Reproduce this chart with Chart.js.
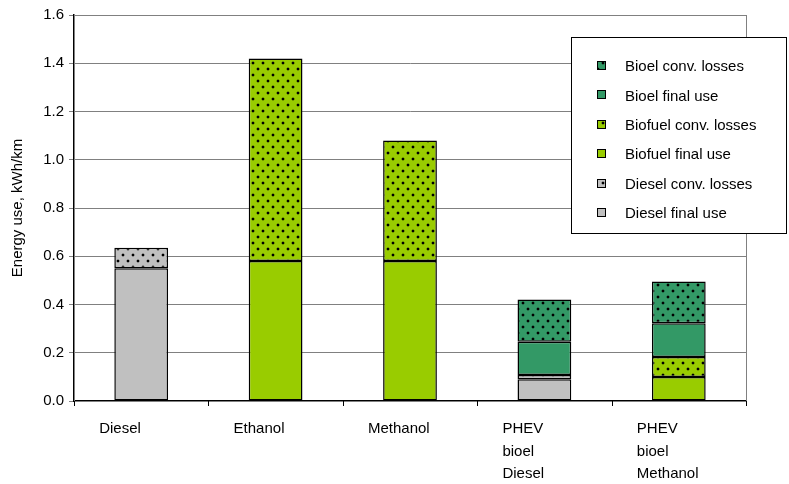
<!DOCTYPE html>
<html lang="en">
<head>
  <meta charset="UTF-8" />
  <title>Energy use per km</title>
  <script src="https://cdn.jsdelivr.net/npm/chart.js"></script>
  <style>
    html, body { margin: 0; padding: 0; background: #fff; }
    #wrap { width: 789px; height: 484px; position: relative; }
  </style>
</head>
<body>
  <div id="wrap"><canvas id="energyChart" width="789" height="484"></canvas></div>

  <script>
    // categories and stacked values (kWh/km), bottom to top
    const categories = ['Diesel', 'Ethanol', 'Methanol', ['PHEV', 'bioel', 'Diesel'], ['PHEV', 'bioel', 'Methanol']];
    const dieselFinal   = [0.55, null, null, 0.09, null];
    const dieselLosses  = [0.085, null, null, 0.018, null];
    const biofuelFinal  = [null, 0.58, 0.58, null, 0.10];
    const biofuelLosses = [null, 0.84, 0.50, null, 0.082];
    const bioelFinal    = [null, null, null, 0.138, 0.14];
    const bioelLosses   = [null, null, null, 0.175, 0.173];
    const yTicks = [0, 0.2, 0.4, 0.6, 0.8, 1.0, 1.2, 1.4, 1.6];

    const GREY = '#c0c0c0';
    const LIME = '#99cc00';
    const SEA = '#339966';

    // dotted fill used for the conversion-loss segments
    function dotted(color) {
      const c = document.createElement('canvas');
      c.width = 10; c.height = 12;
      const g = c.getContext('2d');
      g.fillStyle = color;
      g.fillRect(0, 0, 10, 12);
      g.fillStyle = 'rgba(0,0,0,0.25)';
      g.fillRect(1, 2, 4, 2); g.fillRect(2, 1, 2, 4);
      g.fillRect(6, 8, 4, 2); g.fillRect(7, 7, 2, 4);
      g.fillStyle = '#000';
      g.fillRect(2, 2, 2, 2);
      g.fillRect(7, 8, 2, 2);
      return g.createPattern(c, 'repeat');
    }

    const series = [
      { label: 'Diesel final use', data: dieselFinal, bg: GREY },
      { label: 'Diesel conv. losses', data: dieselLosses, bg: dotted(GREY) },
      { label: 'Biofuel final use', data: biofuelFinal, bg: LIME },
      { label: 'Biofuel conv. losses', data: biofuelLosses, bg: dotted(LIME) },
      { label: 'Bioel final use', data: bioelFinal, bg: SEA },
      { label: 'Bioel conv. losses', data: bioelLosses, bg: dotted(SEA) }
    ];

    // grey frame round the plot area, plus the category tick marks under the x axis
    const plotFrame = {
      id: 'plotFrame',
      beforeDatasetsDraw(chart) {
        const { ctx, chartArea: a } = chart;
        ctx.save();
        ctx.strokeStyle = '#808080';
        ctx.lineWidth = 1;
        ctx.strokeRect(Math.round(a.left) + 0.5, Math.round(a.top) + 0.5, Math.round(a.right - a.left), Math.round(a.bottom - a.top));
        const xs = chart.scales.x;
        const half = (xs.getPixelForValue(1) - xs.getPixelForValue(0)) / 2;
        ctx.strokeStyle = '#000';
        ctx.beginPath();
        for (let i = 0; i <= categories.length; i++) {
          const px = Math.round(xs.getPixelForValue(0) - half + i * half * 2) + 0.5;
          ctx.moveTo(px, a.bottom);
          ctx.lineTo(px, a.bottom + 5);
        }
        ctx.stroke();
        ctx.restore();
      }
    };

    // legend box overlapping the top right corner
    const boxLegend = {
      id: 'boxLegend',
      afterDraw(chart) {
        const ctx = chart.ctx;
        const x = 571, y = 37, w = 215, h = 196;
        ctx.save();
        ctx.fillStyle = '#fff';
        ctx.fillRect(x, y, w, h);
        ctx.strokeStyle = '#000';
        ctx.lineWidth = 1;
        ctx.strokeRect(x + 0.5, y + 0.5, w, h);
        ctx.font = '15px "Liberation Sans", Arial, sans-serif';
        ctx.textBaseline = 'middle';
        const ds = chart.data.datasets;
        for (let i = 0; i < ds.length; i++) {
          const d = ds[ds.length - 1 - i];
          const cy = 66 + i * 29.4;
          ctx.fillStyle = d.backgroundColor;
          ctx.fillRect(597, Math.round(cy) - 5, 9, 9);
          ctx.strokeStyle = '#000';
          ctx.strokeRect(597.5, Math.round(cy) - 4.5, 8, 8);
          ctx.fillStyle = '#000';
          ctx.fillText(d.label, 625, cy + 1);
        }
        ctx.restore();
      }
    };

    Chart.defaults.font.family = '"Liberation Sans", Arial, sans-serif';
    Chart.defaults.font.size = 15;
    Chart.defaults.color = '#000';

    new Chart(document.getElementById('energyChart'), {
      type: 'bar',
      data: {
        labels: categories,
        datasets: series.map(s => ({
          label: s.label,
          data: s.data,
          backgroundColor: s.bg,
          borderColor: '#000',
          borderWidth: 1.5,
          borderSkipped: false,
          categoryPercentage: 1,
          barPercentage: 0.4
        }))
      },
      options: {
        responsive: false,
        animation: false,
        layout: { padding: { top: 15, right: 43, left: 0, bottom: 0 } },
        plugins: {
          legend: { display: false },
          tooltip: { enabled: false }
        },
        scales: {
          x: {
            stacked: true,
            afterFit(scale) { scale.height = 83; },
            grid: { display: false, drawTicks: false },
            border: { color: '#000', width: 1.5 },
            ticks: { align: 'start', labelOffset: -42, padding: 17, font: { size: 15, lineHeight: 1.5 } }
          },
          y: {
            stacked: true,
            min: 0,
            max: 1.6,
            afterFit(scale) { scale.width = 74; },
            afterBuildTicks(scale) { scale.ticks = yTicks.map(v => ({ value: v })); },
            grid: { color: '#808080', tickLength: 5 },
            border: { color: '#000', width: 1.5 },
            ticks: { padding: 5, callback: v => v.toFixed(1) },
            title: { display: true, text: 'Energy use, kWh/km', font: { size: 15 }, padding: { top: 9, bottom: 0 } }
          }
        }
      },
      plugins: [plotFrame, boxLegend]
    });
  </script>
</body>
</html>
